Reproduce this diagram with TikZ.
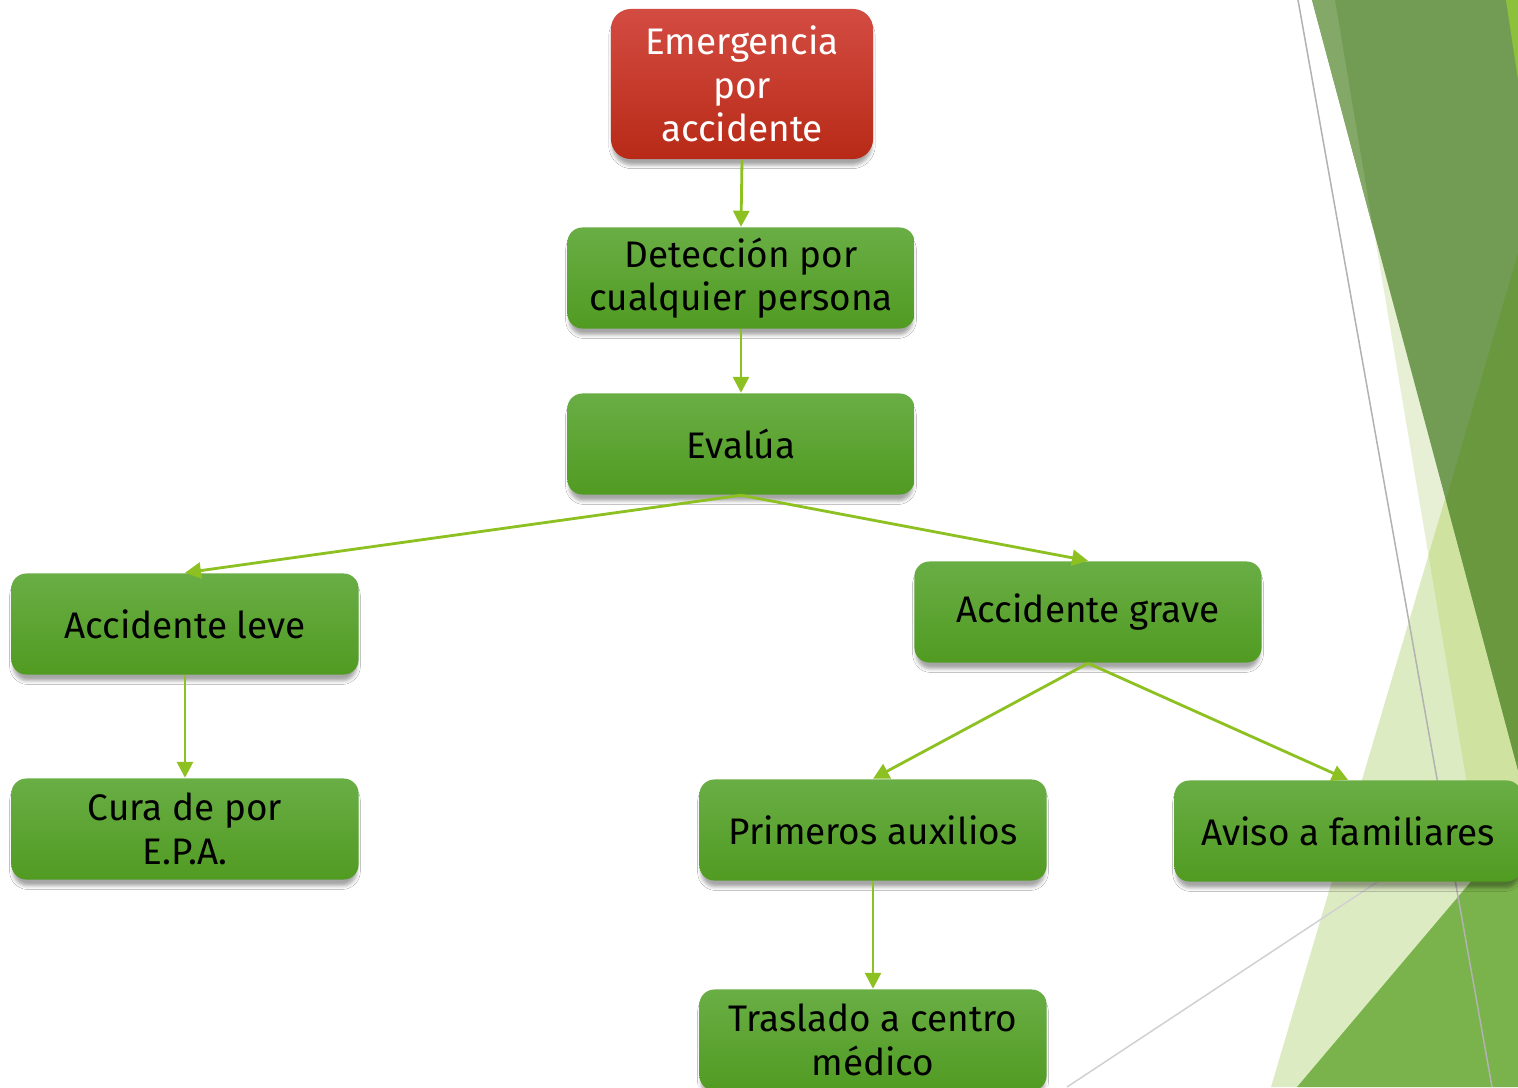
\documentclass[tikz,border=0pt]{standalone}
\usepackage{fontspec}
\setmainfont{Fira Sans}
\usetikzlibrary{arrows.meta,shadows.blur}

\definecolor{verdeA}{HTML}{69AE45}
\definecolor{verdeB}{HTML}{519B22}
\definecolor{rojoA}{HTML}{D34C42}
\definecolor{rojoB}{HTML}{B82A17}
\definecolor{flechaverde}{HTML}{8DC021}
\definecolor{facetoscuro}{HTML}{729C53}
\definecolor{facetmedio}{HTML}{6A983F}
\definecolor{facetclaro}{HTML}{DDEBC3}
\definecolor{facetpalido}{HTML}{E7F0D4}
\definecolor{facetcruce}{HTML}{CFE2A0}
\definecolor{facetbajo}{HTML}{7AB34B}
\definecolor{facetvivo}{HTML}{8DC03B}

\tikzset{
    caja/.style={rectangle, rounded corners=0.15cm, minimum width=3.47cm, minimum height=1.01cm,
        inner sep=0pt, align=center, top color=verdeA, bottom color=verdeB,
        font=\fontsize{10.5}{12.4}\selectfont,
        blur shadow={shadow xshift=0pt, shadow yshift=-0.07cm, shadow blur radius=0.035cm,
            shadow blur extra rounding=0.03cm, shadow opacity=35, shadow scale=0.99}},
    cajaroja/.style={caja, top color=rojoA, bottom color=rojoB, text=white,
        minimum width=2.62cm, minimum height=1.5cm, rounded corners=0.2cm},
    flecha/.style={draw=flechaverde, line width=0.028cm, -{Triangle[length=0.16cm,width=0.16cm]}}
}

\begin{document}
\begin{tikzpicture}[x=0.01cm, y=-0.01cm]
    \useasboundingbox (0,0) rectangle (1518,1087);
    \fill[white] (0,0) rectangle (1518,1087);

    \fill[facetpalido] (1335,0) -- (1518,0) -- (1518,1087) -- cycle;
    \fill[facetclaro] (1271,1087) -- (1518,253) -- (1518,1087) -- cycle;
    \fill[facetcruce] (1518,253) -- (1428.5,555) -- (1518,1087) -- cycle;
    \fill[facetbajo] (1297,1087) -- (1518,826) -- (1518,1087) -- cycle;
    \fill[facetoscuro] (1312,0) -- (1518,0) -- (1518,770) -- cycle;
    \fill[facetoscuro!88!white] (1312,0) -- (1335,0) -- (1373,228) -- cycle;
    \fill[facetmedio] (1518,253) -- (1446,500) -- (1518,770) -- cycle;
    \fill[facetvivo] (1506,0) -- (1518,0) -- (1518,80) -- cycle;
    \draw[black!30, line width=0.015cm] (1298,0) -- (1492,1087);
    \draw[black!18, line width=0.015cm] (1067,1087) -- (1518,789);

    \node[cajaroja] (emergencia) at (742,84) {Emergencia\\por\\accidente};
    \node[caja] (deteccion) at (741,278) {Detección por\\cualquier persona};
    \node[caja] (evalua) at (741,444) {Evalúa};
    \node[caja] (leve) at (185,624) {Accidente leve};
    \node[caja] (grave) at (1088,612) {Accidente grave};
    \node[caja] (cura) at (185,829) {Cura de por\\E.P.A.};
    \node[caja] (primeros) at (873,830) {Primeros auxilios};
    \node[caja] (aviso) at (1348,831) {Aviso a familiares};
    \node[caja] (traslado) at (873,1040) {Traslado a centro\\médico};

    \draw[flecha] (emergencia.south) -- (deteccion.north);
    \draw[flecha] (deteccion.south) -- (evalua.north);
    \draw[flecha] (evalua.south) -- (leve.north);
    \draw[flecha] (evalua.south) -- (grave.north);
    \draw[flecha] (leve.south) -- (cura.north);
    \draw[flecha] (grave.south) -- (primeros.north);
    \draw[flecha] (grave.south) -- (aviso.north);
    \draw[flecha] (primeros.south) -- (traslado.north);
\end{tikzpicture}
\end{document}
